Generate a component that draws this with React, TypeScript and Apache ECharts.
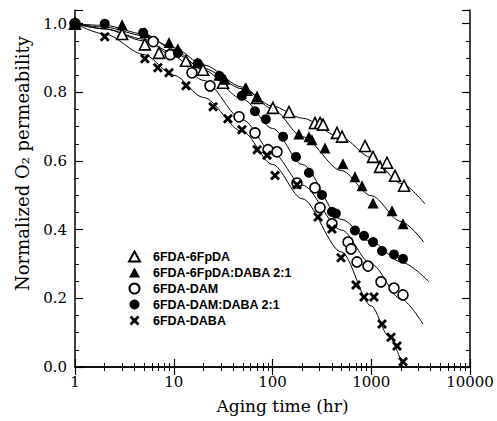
import React, { useEffect, useRef } from "react";
import * as echarts from "echarts";

// ---- Data ----
const seriesNames = [
  "6FDA-6FpDA",
  "6FDA-6FpDA:DABA 2:1",
  "6FDA-DAM",
  "6FDA-DAM:DABA 2:1",
  "6FDA-DABA",
];

// 6FDA-6FpDA (open triangles)
const fpdaT = [1, 3.0, 5.1, 7.1, 13.3, 19.8, 31.5, 53.9, 69.7, 101, 147, 269, 303, 325, 450, 506, 865, 1042, 1227, 1443, 1741, 2147];
const fpdaV = [1.0, 0.97, 0.94, 0.915, 0.892, 0.866, 0.828, 0.808, 0.784, 0.755, 0.743, 0.711, 0.711, 0.706, 0.682, 0.671, 0.644, 0.612, 0.583, 0.595, 0.557, 0.528];

// 6FDA-6FpDA:DABA 2:1 (filled triangles)
const fpdaDabaT = [1, 3.0, 5.1, 8.95, 11.0, 17.2, 28.7, 33.0, 52.7, 69.7, 185, 234, 251, 340, 517, 684, 806, 1042, 1622, 2098];
const fpdaDabaV = [1.0, 0.997, 0.974, 0.945, 0.927, 0.886, 0.85, 0.838, 0.811, 0.787, 0.679, 0.671, 0.662, 0.638, 0.592, 0.554, 0.528, 0.478, 0.455, 0.417];

// 6FDA-DAM (open circles)
const damT = [1, 6.2, 9.2, 15.3, 23.3, 45.8, 66.5, 90, 111, 177, 269, 303, 400, 582, 624, 717, 927, 1256, 1700, 2098];
const damV = [1.0, 0.948, 0.91, 0.857, 0.819, 0.729, 0.682, 0.633, 0.627, 0.536, 0.522, 0.464, 0.417, 0.364, 0.344, 0.306, 0.294, 0.248, 0.23, 0.21];

// 6FDA-DAM:DABA 2:1 (filled circles)
const damDabaT = [1, 2.0, 4.9, 11, 17.5, 29, 49, 66.5, 85.6, 128, 173, 234, 317, 400, 438, 684, 845, 1042, 1285, 1700, 2098];
const damDabaV = [1.0, 1.0, 0.974, 0.915, 0.885, 0.848, 0.79, 0.745, 0.722, 0.671, 0.612, 0.566, 0.501, 0.452, 0.447, 0.398, 0.382, 0.364, 0.338, 0.328, 0.315];

// 6FDA-DABA (crosses)
const dabaT = [1, 2.0, 5.1, 6.9, 8.95, 13.3, 25, 35.4, 49, 70, 88, 106, 177, 289, 400, 494, 701, 845, 1066, 1285, 1585, 1823, 2098];
const dabaV = [1.0, 0.962, 0.898, 0.872, 0.857, 0.819, 0.758, 0.723, 0.691, 0.633, 0.617, 0.558, 0.531, 0.437, 0.402, 0.318, 0.239, 0.204, 0.204, 0.125, 0.087, 0.061, 0.015];

// Fitted curves
const fitAT = [1, 2, 5, 10, 20, 50, 100, 200, 500, 1000, 2000, 3500];
const fitAV = [1, 0.985, 0.95, 0.915, 0.87, 0.81, 0.76, 0.725, 0.668, 0.61, 0.535, 0.475];
const fitBT = [1, 2, 5, 10, 20, 50, 100, 200, 500, 1000, 2000, 3400];
const fitBV = [1, 0.99, 0.965, 0.93, 0.88, 0.815, 0.752, 0.671, 0.572, 0.499, 0.424, 0.364];
const fitCT = [1, 2, 5, 10, 20, 50, 100, 200, 500, 1000, 2000, 3340];
const fitCV = [1, 0.985, 0.955, 0.905, 0.835, 0.72, 0.625, 0.53, 0.399, 0.3, 0.198, 0.125];
const fitDT = [1, 2, 5, 10, 20, 50, 100, 200, 500, 1000, 2000, 3850];
const fitDV = [1, 0.995, 0.97, 0.925, 0.865, 0.78, 0.695, 0.59, 0.43, 0.365, 0.306, 0.248];
const fitET = [1, 2, 5, 10, 20, 50, 100, 200, 500, 1000, 1500, 2100];
const fitEV = [1, 0.97, 0.91, 0.85, 0.785, 0.685, 0.59, 0.49, 0.335, 0.178, 0.09, 0.0];

const xTickLabels = ["1", "10", "100", "1000", "10000"];

const zip = (a: number[], b: number[]) => a.map((t, i) => [t, b[i]]);

const CROSS =
  "path://M0,2 L2,0 L5,3 L8,0 L10,2 L7,5 L10,8 L8,10 L5,7 L2,10 L0,8 L3,5 Z";

export default function App() {
  const ref = useRef<HTMLDivElement>(null);
  useEffect(() => {
    if (!ref.current) return;
    const chart = echarts.init(ref.current, null, { renderer: "svg" });
    const serif = "DejaVu Serif";
    const axisLine = { show: true, lineStyle: { color: "#000", width: 1.5 } };
    const tick = { show: true, inside: true, length: 8, lineStyle: { color: "#000", width: 1.2 } };
    const xMinor = { show: true, splitNumber: 9, length: 4, lineStyle: { color: "#000", width: 1 } };
    const yMinor = { show: true, splitNumber: 4, length: 4, lineStyle: { color: "#000", width: 1 } };

    const fitLine = (t: number[], v: number[]) => ({
      type: "line",
      data: zip(t, v),
      smooth: 0.3,
      smoothMonotone: "x",
      symbol: "none",
      silent: true,
      lineStyle: { color: "#000", width: 1 },
      z: 1,
    });
    const scatter = (name: string, t: number[], v: number[], symbol: string, size: number, fill: string, border: number) => ({
      type: "scatter",
      name,
      data: zip(t, v),
      symbol,
      symbolSize: size,
      itemStyle: { color: fill, borderColor: "#000", borderWidth: border, opacity: 1 },
      z: 3,
    });

    chart.setOption({
      animation: false,
      backgroundColor: "#fff",
      grid: { left: 75, right: 27, top: 10, bottom: 54, containLabel: false },
      legend: {
        data: seriesNames,
        orient: "vertical",
        left: 123,
        top: 245,
        itemWidth: 11,
        itemHeight: 10,
        itemGap: 3,
        textStyle: {
          fontFamily: "Liberation Sans",
          fontWeight: "bold",
          fontSize: 12.5,
          color: "#000",
          padding: [0, 0, 0, 8],
        },
        selectedMode: false,
      },
      xAxis: [
        {
          type: "log",
          logBase: 10,
          min: 1,
          max: 10000,
          position: "bottom",
          axisLine,
          axisTick: tick,
          minorTick: xMinor,
          splitLine: { show: false },
          axisLabel: {
            color: "#000",
            fontFamily: serif,
            fontSize: 15,
            margin: 7,
            formatter: (v: number) => {
              const s = String(Math.round(v));
              return xTickLabels.includes(s) ? s : "";
            },
          },
          name: "Aging time (hr)",
          nameLocation: "middle",
          nameGap: 30,
          nameTextStyle: { color: "#000", fontFamily: serif, fontSize: 17, padding: [0, 0, 0, 20] },
        },
        {
          type: "log",
          logBase: 10,
          min: 1,
          max: 10000,
          position: "top",
          axisLine,
          axisTick: tick,
          minorTick: xMinor,
          splitLine: { show: false },
          axisLabel: { show: false },
        },
      ],
      yAxis: [
        {
          type: "value",
          min: 0,
          max: 1.04,
          interval: 0.2,
          position: "left",
          axisLine,
          axisTick: tick,
          minorTick: yMinor,
          splitLine: { show: false },
          axisLabel: {
            color: "#000",
            fontFamily: serif,
            fontSize: 15,
            margin: 8,
            showMaxLabel: false,
            formatter: (v: number) =>
              Math.abs(v / 0.2 - Math.round(v / 0.2)) < 1e-6 ? v.toFixed(1) : "",
          },
          name: "Normalized O\u2082 permeability",
          nameLocation: "middle",
          nameGap: 44,
          nameTextStyle: { color: "#000", fontFamily: serif, fontSize: 18, padding: [0, 0, 0, 50] },
        },
        {
          type: "value",
          min: 0,
          max: 1.04,
          interval: 0.2,
          position: "right",
          axisLine,
          axisTick: tick,
          minorTick: yMinor,
          splitLine: { show: false },
          axisLabel: { show: false },
        },
      ],
      series: [
        fitLine(fitAT, fitAV),
        fitLine(fitBT, fitBV),
        fitLine(fitCT, fitCV),
        fitLine(fitDT, fitDV),
        fitLine(fitET, fitEV),
        scatter(seriesNames[0], fpdaT, fpdaV, "triangle", 11, "#fff", 1.6),
        scatter(seriesNames[1], fpdaDabaT, fpdaDabaV, "triangle", 11, "#000", 0),
        scatter(seriesNames[2], damT, damV, "circle", 10, "#fff", 1.6),
        scatter(seriesNames[3], damDabaT, damDabaV, "circle", 10, "#000", 0),
        scatter(seriesNames[4], dabaT, dabaV, CROSS, 10, "#000", 0),
      ],
    });
    return () => chart.dispose();
  }, []);
  return (
    <div
      ref={ref}
      style={{ position: "fixed", left: 0, top: 0, width: 497, height: 421, background: "#fff" }}
    />
  );
}
